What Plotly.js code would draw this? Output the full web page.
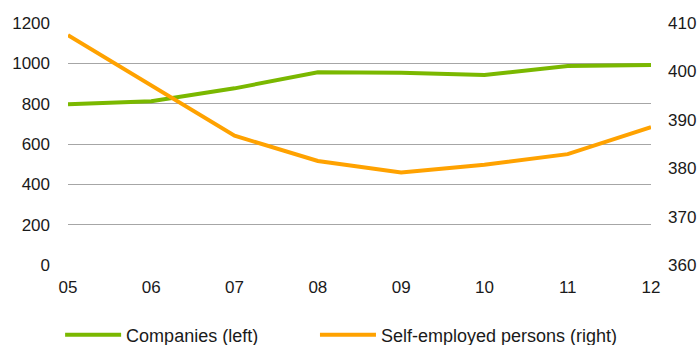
<!DOCTYPE html>
<html>
<head>
<meta charset="utf-8">
<script src="https://cdn.plot.ly/plotly-3.0.1.min.js"></script>
<style>html,body{margin:0;padding:0;background:#fff}#chart{width:699px;height:345px}</style>
</head>
<body>
<div id="chart"></div>
<script>
const years = ["05","06","07","08","09","10","11","12"];
const companies = [797, 812, 876, 956, 953, 942, 987, 992];
const selfEmployed = [407.5, 397.0, 386.7, 381.5, 379.1, 380.7, 382.9, 388.5];
const leftTicks = [0, 200, 400, 600, 800, 1000, 1200];
const rightTicks = [360, 370, 380, 390, 400, 410];

const tickFont = {family: "Liberation Sans, Arial, sans-serif", size: 17, color: "#1a1a1a"};
const legendFont = {family: "Liberation Sans, Arial, sans-serif", size: 18, color: "#1a1a1a"};

const traces = [
  {x: years, y: companies, name: "Companies (left)", type: "scatter", mode: "lines",
   line: {color: "#7ab800", width: 4}, yaxis: "y", legend: "legend"},
  {x: years, y: selfEmployed, name: "Self-employed persons (right)", type: "scatter", mode: "lines",
   line: {color: "#ffa200", width: 4}, yaxis: "y2", legend: "legend2"}
];

const legendBase = {orientation: "h", xref: "container", yref: "container", y: 0.029,
                    xanchor: "left", yanchor: "middle", font: legendFont, itemwidth: 56,
                    bgcolor: "rgba(0,0,0,0)"};

const layout = {
  width: 699, height: 345,
  margin: {l: 68, r: 48, t: 23, b: 80},
  paper_bgcolor: "#fff", plot_bgcolor: "#fff",
  font: tickFont,
  showlegend: true,
  legend: Object.assign({}, legendBase, {x: 0.086}),
  legend2: Object.assign({}, legendBase, {x: 0.4506}),
  xaxis: {type: "category", range: [0, 7], showgrid: false, zeroline: false, showline: false,
          ticks: "", tickfont: tickFont, ticklabelstandoff: 10, fixedrange: true},
  yaxis: {range: [0, 1200], tickvals: leftTicks, ticktext: leftTicks.map(String), showgrid: true,
          gridcolor: "#a6a6a6", gridwidth: 1, zeroline: false, showline: false, ticks: "",
          tickfont: tickFont, ticklabelstandoff: 17},
  yaxis2: {range: [360, 410], tickvals: rightTicks, ticktext: rightTicks.map(String), overlaying: "y",
           side: "right", showgrid: false, zeroline: false, showline: false, ticks: "",
           tickfont: tickFont, ticklabelstandoff: 16}
};

Plotly.newPlot("chart", traces, layout, {staticPlot: true, displayModeBar: false});
</script>
</body>
</html>
